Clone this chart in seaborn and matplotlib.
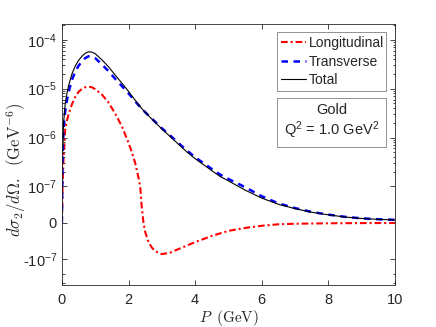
import matplotlib
matplotlib.use("Agg")
import matplotlib.pyplot as plt
import matplotlib.ticker as mticker
from matplotlib.patches import Rectangle
import seaborn as sns

# ------------------------
# data
# ------------------------
p_grid = [0, 0.02, 0.05, 0.1, 0.15, 0.2, 0.3, 0.4, 0.5, 0.6, 0.7, 0.8, 0.9, 1.0,
          1.2, 1.4, 1.6, 1.8, 2.0, 2.2, 2.4, 2.6, 2.8, 3.0, 3.25, 3.5, 3.75, 4.0,
          4.25, 4.5, 4.75, 5.0, 5.5, 6.0, 6.5, 7.0, 7.5, 8.0, 8.5, 9.0, 9.5, 10.0]
sigma_total = [0, 5e-7, 2e-6, 5e-6, 8e-6, 1.15e-5, 2.0e-5, 2.9e-5, 3.8e-5, 4.6e-5,
               5.3e-5, 5.7e-5, 5.6e-5, 5.2e-5, 3.9e-5, 2.8e-5, 1.9e-5, 1.3e-5,
               8.8e-6, 5.8e-6, 3.9e-6, 2.8e-6, 2.05e-6, 1.5e-6, 1.05e-6, 7.3e-7,
               5.1e-7, 3.7e-7, 2.8e-7, 2.1e-7, 1.6e-7, 1.3e-7, 9e-8, 6.8e-8,
               5.1e-8, 3.9e-8, 2.9e-8, 2.2e-8, 1.6e-8, 1.2e-8, 9.5e-9, 8e-9]
sigma_trans = [0, 4e-7, 1.6e-6, 3.5e-6, 5.8e-6, 8.5e-6, 1.52e-5, 2.22e-5, 2.94e-5,
               3.61e-5, 4.23e-5, 4.6e-5, 4.53e-5, 4.22e-5, 3.14e-5, 2.28e-5,
               1.59e-5, 1.13e-5, 8.05e-6, 5.5e-6, 3.87e-6, 2.83e-6, 2.1e-6,
               1.55e-6, 1.1e-6, 7.7e-7, 5.45e-7, 3.95e-7, 3.0e-7, 2.28e-7,
               1.75e-7, 1.42e-7, 9.8e-8, 7.3e-8, 5.35e-8, 4.05e-8, 3.0e-8,
               2.25e-8, 1.65e-8, 1.24e-8, 9.8e-9, 8.3e-9]

p_long = [0, 0.02, 0.05, 0.1, 0.15, 0.2, 0.3, 0.4, 0.5, 0.6, 0.7, 0.8, 0.9, 1.0,
          1.2, 1.4, 1.6, 1.8, 2.0, 2.1, 2.2, 2.3, 2.35, 2.4, 2.45, 2.5, 2.6, 2.7,
          2.8, 3.0, 3.25, 3.5, 4.0, 4.5, 5.0, 5.5, 6.0, 6.5, 7.0, 8.0, 9.0, 10.0]
sigma_long = [0, 1e-7, 4e-7, 1.5e-6, 2.2e-6, 3.0e-6, 4.8e-6, 6.8e-6, 8.6e-6, 9.9e-6,
              1.07e-5, 1.1e-5, 1.07e-5, 9.8e-6, 7.6e-6, 5.2e-6, 3.1e-6, 1.7e-6,
              7.8e-7, 5.0e-7, 3.0e-7, 1.5e-7, 1.0e-7, 4e-8, 0, -2.5e-8, -5.3e-8,
              -6.8e-8, -7.8e-8, -8.6e-8, -8.2e-8, -7.2e-8, -5.3e-8, -3.6e-8,
              -2.2e-8, -1.4e-8, -8e-9, -4e-9, -2.5e-9, -1.2e-9, -7e-10, -4e-10]

y_ticks = [-1e-7, 0, 1e-7, 1e-6, 1e-5, 1e-4]
y_tick_labels = ['-10$^{-7}$', '0', '10$^{-7}$', '10$^{-6}$', '10$^{-5}$', '10$^{-4}$']
x_ticks = [0, 2, 4, 6, 8, 10]

# ------------------------
# style
# ------------------------
sns.set_style("ticks")
plt.rcParams['font.family'] = ['Liberation Sans', 'DejaVu Sans']
plt.rcParams['mathtext.fontset'] = 'custom'
plt.rcParams['mathtext.rm'] = 'Liberation Sans'
plt.rcParams['mathtext.it'] = 'Liberation Sans:italic'
plt.rcParams['mathtext.bf'] = 'Liberation Sans:bold'

axis_col = '#262626'

fig = plt.figure(figsize=(4.36, 3.27), dpi=100)
ax = fig.add_axes([0.142, 0.128, 0.764, 0.799])

sns.lineplot(x=p_long, y=sigma_long, ax=ax, color='#ff0000', lw=1.5,
             linestyle=(0, (3.2, 1.4, 1, 1.4)), label='Longitudinal',
             estimator=None, sort=False)
sns.lineplot(x=p_grid, y=sigma_trans, ax=ax, color='#0000ff', lw=1.8,
             linestyle=(0, (2.6, 2.2)), label='Transverse',
             estimator=None, sort=False)
sns.lineplot(x=p_grid, y=sigma_total, ax=ax, color='black', lw=0.8,
             label='Total', estimator=None, sort=False)

ax.set_yscale('symlog', linthresh=1e-7, linscale=0.67)
ax.set_ylim(-3.39e-7, 2.12e-4)
ax.set_xlim(0, 10)

ax.set_yticks(y_ticks)
ax.set_yticklabels(y_tick_labels)
minor = [-3e-7, -2e-7] + [m * 10.0 ** e for e in range(-7, -3) for m in range(2, 10)]
ax.yaxis.set_minor_locator(mticker.FixedLocator(minor))
ax.set_xticks(x_ticks)
ax.xaxis.set_minor_locator(mticker.NullLocator())

ax.tick_params(which='both', direction='in', top=True, right=True,
               color=axis_col, labelcolor=axis_col, labelsize=10.5, width=0.6)
ax.tick_params(which='major', length=3.5)
ax.tick_params(which='minor', length=1.8)
ax.tick_params(axis='x', pad=6)
ax.tick_params(axis='y', pad=3.5)
for s in ax.spines.values():
    s.set_color(axis_col)
    s.set_linewidth(0.6)

ax.set_xlabel(r'$P\;\;(\mathrm{GeV})$', fontsize=11, math_fontfamily='cm')
ax.set_ylabel(r'$d\sigma_2/d\Omega.\ \ (\mathrm{GeV}^{-6})$', fontsize=12,
              math_fontfamily='cm')
ax.xaxis.set_label_coords(0.5, -0.088)
ax.yaxis.set_label_coords(-0.103, 0.44)

leg = ax.legend(loc='upper left', bbox_to_anchor=(0.646, 0.755, 0.327, 0.214),
                mode='expand', borderaxespad=0, fontsize=10, fancybox=False,
                frameon=True, edgecolor='#808080', framealpha=1,
                handlelength=1.8, handletextpad=0.2, labelspacing=0.32,
                borderpad=0.3)
leg.get_frame().set_linewidth(0.6)

# text box with the target info
ax.add_patch(Rectangle((0.646, 0.529), 0.327, 0.187, transform=ax.transAxes,
                       facecolor='white', edgecolor='#808080', lw=0.6, zorder=5))
ax.text(0.809, 0.670, 'Gold', transform=ax.transAxes, ha='center', va='center',
        fontsize=10.5, color=axis_col, zorder=6)
ax.text(0.809, 0.594, 'Q$^2$ = 1.0 GeV$^2$', transform=ax.transAxes, ha='center',
        va='center', fontsize=10.5, color=axis_col, zorder=6)

fig.savefig('out.png', dpi=100)
